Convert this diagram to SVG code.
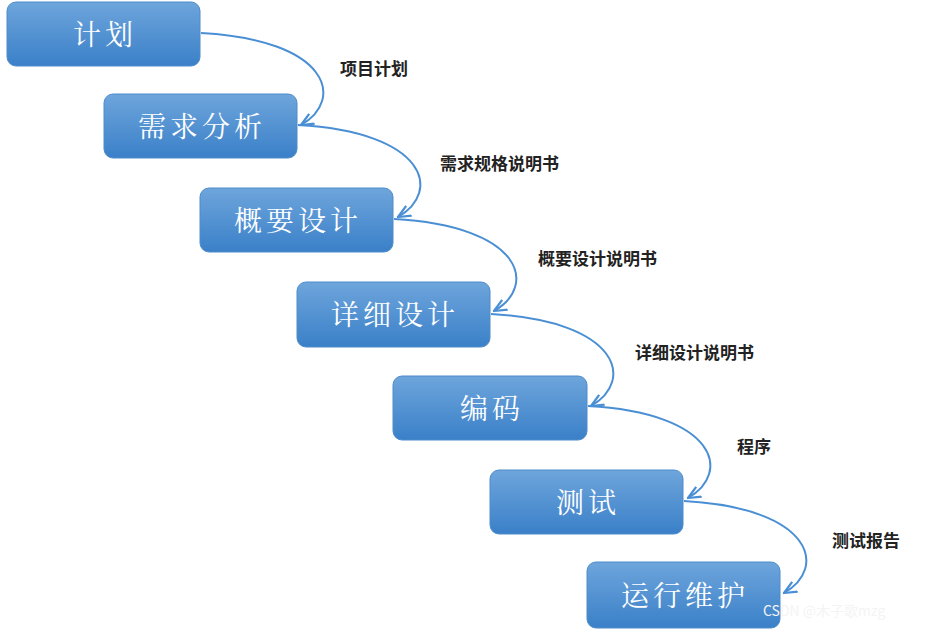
<svg xmlns="http://www.w3.org/2000/svg" width="931" height="630" viewBox="0 0 931 630">
<defs>
<linearGradient id="g" x1="0" y1="0" x2="0" y2="1"><stop offset="0" stop-color="#6ea5dc"/><stop offset="1" stop-color="#3a80c8"/></linearGradient>
<marker id="a" viewBox="0 0 10 10" refX="9" refY="5" markerWidth="7" markerHeight="7" orient="auto"><path d="M0,1 L9,5 L0,9" fill="none" stroke="#4a8fd4" stroke-width="1.6"/></marker>
</defs>
<style>
.b{fill:url(#g);stroke:#4f8cc9;stroke-width:1}
.t{fill:#fff;font-family:"Noto Serif CJK SC","Noto Sans CJK SC",serif;font-size:28px;text-anchor:middle;letter-spacing:4px}
.l{fill:#222;font-family:"Noto Sans CJK SC",sans-serif;font-size:17px;font-weight:bold}
.c{fill:none;stroke:#4a8fd4;stroke-width:2;marker-end:url(#a)}
</style>
<rect width="931" height="630" fill="#fff"/>
<g id="n1"><rect class="b" x="7" y="2" width="193" height="64" rx="9"/><text class="t" x="105" y="45">计划</text></g>
<g id="n2"><rect class="b" x="104" y="94" width="193" height="64" rx="9"/><text class="t" x="202" y="137">需求分析</text></g>
<g id="n3"><rect class="b" x="200" y="188" width="193" height="64" rx="9"/><text class="t" x="298" y="231">概要设计</text></g>
<g id="n4"><rect class="b" x="297" y="282" width="193" height="65" rx="9"/><text class="t" x="395" y="325">详细设计</text></g>
<g id="n5"><rect class="b" x="393" y="376" width="194" height="64" rx="9"/><text class="t" x="492" y="419">编码</text></g>
<g id="n6"><rect class="b" x="490" y="470" width="193" height="64" rx="9"/><text class="t" x="588" y="513">测试</text></g>
<g id="n7"><rect class="b" x="587" y="562" width="193" height="66" rx="9"/><text class="t" x="685" y="606">运行维护</text></g>
<g id="connectors">
<path class="c" d="M201,33 C330,40 345,100 301,125"/>
<path class="c" d="M298,125 C427,132 442,192 398,217"/>
<path class="c" d="M394,219 C523,226 538,286 494,311"/>
<path class="c" d="M491,314 C620,321 635,381 591,406"/>
<path class="c" d="M588,406 C717,413 732,473 688,498"/>
<path class="c" d="M684,501 C813,508 828,568 784,593"/>
</g>
<g id="labels">
<text class="l" x="340" y="75">项目计划</text>
<text class="l" x="440" y="170">需求规格说明书</text>
<text class="l" x="538" y="265">概要设计说明书</text>
<text class="l" x="635" y="359">详细设计说明书</text>
<text class="l" x="737" y="453">程序</text>
<text class="l" x="832" y="547">测试报告</text>
</g>
<text x="763" y="616" fill="#f4f4f4" style="font-family:'Noto Sans CJK SC',sans-serif;font-size:14px">CSDN @木子歌mzg</text>
</svg>
